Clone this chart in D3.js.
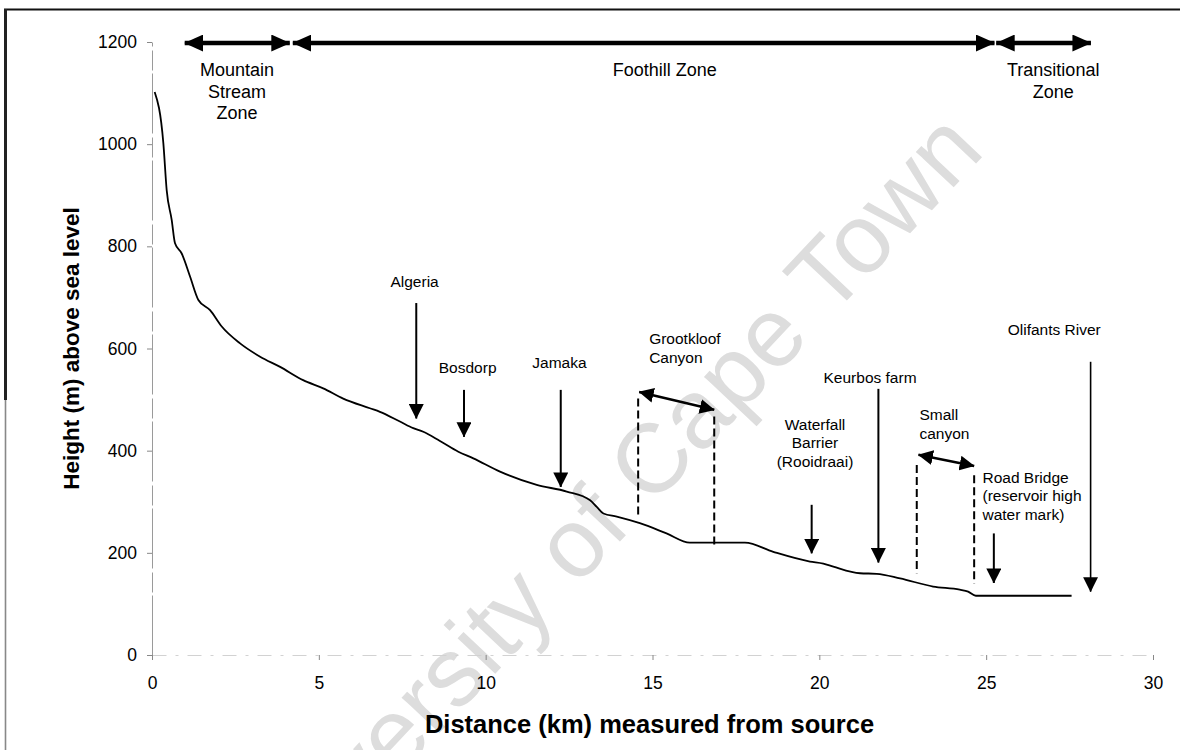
<!DOCTYPE html>
<html>
<head>
<meta charset="utf-8">
<script src="https://cdn.jsdelivr.net/npm/d3@7"></script>
<style>
  body { margin: 0; background: #fff; }
  svg text { font-family: "Liberation Sans", Arial, sans-serif; fill: #000; }
</style>
</head>
<body>
<div id="chart"></div>
<script>
// longitudinal profile
const distanceKm = [0.08, 0.34, 0.44, 0.59, 0.69, 0.89, 1.14, 1.39, 1.74, 2.09, 2.64, 3.24, 3.84,
  4.53, 5.13, 5.73, 6.53, 6.83, 7.43, 7.83, 8.13, 8.63, 9.18, 9.63, 10.43, 11.53, 12.43, 13.13,
  13.33, 13.53, 13.93, 14.62, 15.42, 16.12, 17.77, 18.62, 19.72, 20.12, 20.42, 21.22, 21.72,
  22.42, 23.41, 24.21, 24.46, 24.69, 27.56];
const heightM = [1102, 1002, 910, 852, 806, 786, 741, 695, 675, 643, 610, 584, 564,
  538, 522, 502, 483, 476, 457, 444, 437, 419, 398, 385, 359, 333, 320, 303,
  290, 277, 271, 258, 238, 220, 220, 202, 183, 179, 173, 160, 159,
  150, 134, 128, 124, 116, 116];

const xTicks = [0, 5, 10, 15, 20, 25, 30];
const yTicks = [0, 200, 400, 600, 800, 1000, 1200];

// zones along the top
const zoneLines = [["Mountain", "Stream", "Zone"], ["Foothill Zone"], ["Transitional", "Zone"]];
const zoneStartKm = [0.98, 4.22, 25.3];
const zoneEndKm = [4.13, 25.25, 28.14];
const zoneLabelKm = [2.55, 15.37, 27.01];
const zoneArrowM = 1198;
const zoneLabelM = 1145;

// single arrows
const siteLines = [["Algeria"], ["Bosdorp"], ["Jamaka"], ["Waterfall", "Barrier", "(Rooidraai)"],
  ["Keurbos farm"], ["Road Bridge", "(reservoir high", "water mark)"], ["Olifants River"]];
const siteKm = [7.92, 9.35, 12.25, 19.77, 21.77, 25.23, 28.13];
const siteTopM = [689, 519, 519, 294, 521, 238, 574];
const siteTipM = [463, 427, 329, 199, 181, 141, 124];
const siteLabelKm = [7.87, 9.46, 12.21, 19.87, 21.52, 24.89, 27.04];
const siteLabelM = [731, 562, 572, 452, 544, 348, 637];
const siteAlign = ["middle", "middle", "middle", "middle", "middle", "start", "middle"];

// canyons (dashed sides + double arrow)
const canyonLines = [["Grootkloof", "Canyon"], ["Small", "canyon"]];
const canyonStartKm = [14.57, 22.92];
const canyonEndKm = [16.85, 24.64];
const canyonStartTopM = [502, 372];
const canyonStartBotM = [271, 160];
const canyonEndTopM = [467, 352];
const canyonEndBotM = [215, 140];
const canyonArrowStartKm = [14.6, 22.97];
const canyonArrowStartM = [515, 392];
const canyonArrowEndM = [480, 370];
const canyonLabelKm = [14.9, 23.0];
const canyonLabelM = [619, 470];

const width = 1180, height = 750;

const svg = d3.select("#chart").append("svg")
    .attr("width", width)
    .attr("height", height);

const x = d3.scaleLinear().domain([0, 30]).range([152, 1153]);
const y = d3.scaleLinear().domain([0, 1200]).range([655, 42]);

// arrow heads
const defs = svg.append("defs");
function head(id, len, wid) {
    defs.append("marker")
        .attr("id", id)
        .attr("markerUnits", "userSpaceOnUse")
        .attr("markerWidth", len)
        .attr("markerHeight", wid)
        .attr("viewBox", "0 0 " + len + " " + wid)
        .attr("refX", len - 0.5)
        .attr("refY", wid / 2)
        .attr("orient", "auto-start-reverse")
        .append("path")
        .attr("d", "M0,0L" + len + "," + (wid / 2) + "L0," + wid + "Z")
        .attr("fill", "#000");
}
head("big", 19, 17);
head("small", 15, 15);

// watermark of the scanned page (runs off the bottom edge)
const wm = svg.append("svg")
    .attr("width", width).attr("height", height)
    .style("overflow", "hidden");
wm.append("text")
    .attr("transform", "translate(606,519) rotate(-46.7)")
    .attr("text-anchor", "middle")
    .attr("dy", "0.26em")
    .style("font-size", "98px")
    .style("fill", "#dddddd")
    .text("University of Cape Town");

// frame (scanned page edge)
svg.append("line")
    .attr("x1", 4).attr("x2", width).attr("y1", 9.5).attr("y2", 9.5)
    .attr("stroke", "#111").attr("stroke-width", 2.2);
svg.append("line")
    .attr("x1", 5.5).attr("x2", 5.5).attr("y1", 9).attr("y2", 400)
    .attr("stroke", "#222").attr("stroke-width", 3);
svg.append("line")
    .attr("x1", 5.5).attr("x2", 5.5).attr("y1", 400).attr("y2", height)
    .attr("stroke", "#888").attr("stroke-width", 1.6);

// axes
const yAxis = svg.append("g")
    .attr("transform", "translate(" + x(0) + ",0)")
    .call(d3.axisLeft(y).tickValues(yTicks).tickFormat(d3.format("d"))
        .tickSize(5).tickSizeOuter(0).tickPadding(10));
yAxis.select(".domain").attr("stroke", "#9a9a9a").attr("stroke-dasharray", "60,3,20,4");
yAxis.selectAll(".tick line").attr("stroke", "#888");
yAxis.selectAll("text").style("font-size", "17.5px");

const xAxis = svg.append("g")
    .attr("transform", "translate(0," + y(0) + ")")
    .call(d3.axisBottom(x).tickValues(xTicks).tickFormat(d3.format("d"))
        .tickSize(5).tickSizeOuter(0).tickPadding(17));
xAxis.select(".domain").attr("stroke", "#d2d2d2").attr("stroke-dasharray", "14,9,3,9");
xAxis.selectAll(".tick line").attr("stroke", "#888");
xAxis.selectAll("text").style("font-size", "17.5px");

svg.append("text")
    .attr("x", (x(0) + x(30)) / 2 - 3)
    .attr("y", 733)
    .attr("text-anchor", "middle")
    .style("font-size", "25.5px")
    .style("font-weight", "bold")
    .text("Distance (km) measured from source");

svg.append("text")
    .attr("transform", "translate(79," + ((y(0) + y(1200)) / 2) + ") rotate(-90)")
    .attr("text-anchor", "middle")
    .style("font-size", "22.5px")
    .style("font-weight", "bold")
    .text("Height (m) above sea level");

// profile line
const line = d3.line()
    .x(function(d, i) { return x(distanceKm[i]); })
    .y(function(d, i) { return y(heightM[i]); })
    .curve(d3.curveMonotoneX);

svg.append("path")
    .datum(heightM)
    .attr("d", line)
    .attr("fill", "none")
    .attr("stroke", "#000")
    .attr("stroke-width", 1.8);

// multi-line labels
function label(g, lines, px, py, anchor, size, lh) {
    const t = g.append("text")
        .attr("text-anchor", anchor)
        .style("font-size", size + "px");
    lines.forEach(function(s, j) {
        t.append("tspan")
            .attr("x", px)
            .attr("y", py + j * lh)
            .attr("dy", "0.35em")
            .text(s);
    });
}

// zone arrows
const zones = svg.append("g");
zoneLines.forEach(function(lines, i) {
    zones.append("line")
        .attr("x1", x(zoneStartKm[i])).attr("x2", x(zoneEndKm[i]))
        .attr("y1", y(zoneArrowM)).attr("y2", y(zoneArrowM))
        .attr("stroke", "#000").attr("stroke-width", 4.5)
        .attr("marker-start", "url(#big)")
        .attr("marker-end", "url(#big)");
    label(zones, lines, x(zoneLabelKm[i]), y(zoneLabelM), "middle", 18, 21.5);
});

// site arrows
const sites = svg.append("g");
siteLines.forEach(function(lines, i) {
    sites.append("line")
        .attr("x1", x(siteKm[i])).attr("x2", x(siteKm[i]))
        .attr("y1", y(siteTopM[i])).attr("y2", y(siteTipM[i]))
        .attr("stroke", "#000").attr("stroke-width", i == 6 ? 1.6 : 2)
        .attr("marker-end", "url(#small)");
    label(sites, lines, x(siteLabelKm[i]), y(siteLabelM[i]), siteAlign[i], 15.5, 18.5);
});

// canyons
const canyons = svg.append("g");
canyonLines.forEach(function(lines, i) {
    canyons.append("line")
        .attr("x1", x(canyonStartKm[i])).attr("x2", x(canyonStartKm[i]))
        .attr("y1", y(canyonStartTopM[i])).attr("y2", y(canyonStartBotM[i]))
        .attr("stroke", "#000").attr("stroke-width", 2)
        .attr("stroke-dasharray", "8,4");
    canyons.append("line")
        .attr("x1", x(canyonEndKm[i])).attr("x2", x(canyonEndKm[i]))
        .attr("y1", y(canyonEndTopM[i])).attr("y2", y(canyonEndBotM[i]))
        .attr("stroke", "#000").attr("stroke-width", 2)
        .attr("stroke-dasharray", "8,4");
    canyons.append("line")
        .attr("x1", x(canyonArrowStartKm[i])).attr("x2", x(canyonEndKm[i]))
        .attr("y1", y(canyonArrowStartM[i])).attr("y2", y(canyonArrowEndM[i]))
        .attr("stroke", "#000").attr("stroke-width", 2.5)
        .attr("marker-start", "url(#small)")
        .attr("marker-end", "url(#small)");
    label(canyons, lines, x(canyonLabelKm[i]), y(canyonLabelM[i]), "start", 15.5, 18.7);
});
</script>
</body>
</html>
